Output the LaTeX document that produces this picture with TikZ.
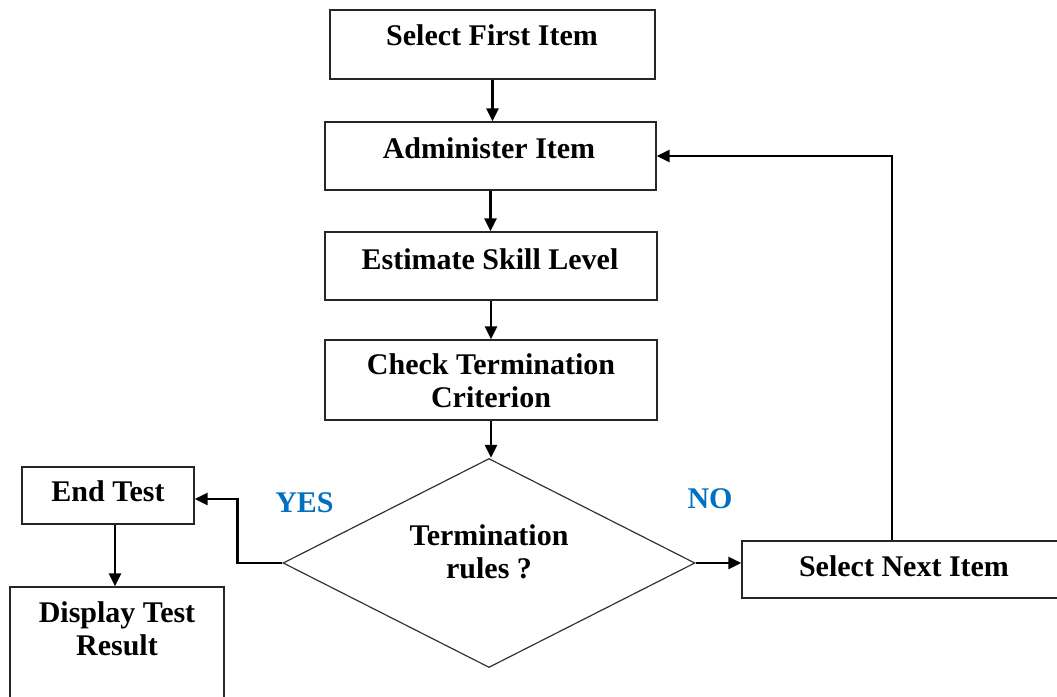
\documentclass[tikz,border=0pt]{standalone}
\usepackage{fontspec}
\setmainfont{Liberation Serif}
\usetikzlibrary{shapes.geometric,arrows.meta}
\definecolor{answer}{RGB}{0,112,192}

\begin{document}
\begin{tikzpicture}[
    x=1pt, y=-1pt,
    box/.style={draw=black!85, line width=1.2pt, inner sep=0pt},
    txt/.style={font=\fontsize{30}{33}\selectfont\bfseries, align=center, inner sep=0pt},
    ans/.style={font=\fontsize{30}{33}\selectfont\bfseries, text=answer, inner sep=0pt},
    link/.style={line width=2.5pt, -{Triangle[length=13pt,width=12pt]}}
    ]
    % 固定画布范围
    \useasboundingbox (0,0) rectangle (1057,696);
    % 主流程方框
    \node[box, minimum width=325pt, minimum height=69pt] (first) at (492.5,44.5) {};
    \node[box, minimum width=331pt, minimum height=68pt] (admin) at (490.5,156) {};
    \node[box, minimum width=332pt, minimum height=68pt] (skill) at (491,266) {};
    \node[box, minimum width=332pt, minimum height=80pt] (check) at (491,380) {};
    % 方框文字
    \node[txt] (firstT) at (492,35) {Select First Item};
    \node[txt] (adminT) at (489,148) {Administer Item};
    \node[txt] (skillT) at (490,259) {Estimate Skill Level};
    \node[txt] (checkT) at (491,381) {Check Termination\\Criterion};
    % 判断菱形
    \node[box, diamond, draw=black!80, minimum width=412pt, minimum height=209pt] (rule) at (489,563) {};
    \node[txt] (ruleT) at (489,552) {Termination\\rules ?};
    % 左侧:结束与结果
    \node[box, minimum width=172pt, minimum height=57pt] (end) at (108,495.5) {};
    \node[txt] (endT) at (108,491) {End Test};
    \node[box, minimum width=214pt, minimum height=123pt] (disp) at (117,648.5) {};
    \node[txt] (dispT) at (117,629) {Display Test\\Result};
    % 右侧:下一题
    \node[box, minimum width=320pt, minimum height=57pt] (next) at (902,569.5) {};
    \node[txt] (nextT) at (904,566) {Select Next Item};
    % 分支标记
    \node[ans] (yes) at (304.5,503) {YES};
    \node[ans] (no) at (710,499) {NO};

    % 竖直箭头
    \draw[link] (first.south) -- (first.south |- admin.north);
    \draw[link] (admin.south) -- (admin.south |- skill.north);
    \draw[link] (skill.south) -- (skill.south |- check.north);
    \draw[link] (check.south) -- (check.south |- rule.north);
    % YES 分支
    \draw[link] (rule.west) -- ++(-45,0) |- ([yshift=-3.5pt]end.east);
    \draw[link] ([xshift=7pt]end.south) -- ([xshift=7pt]end.south |- disp.north);
    % NO 分支,回到 Administer Item
    \draw[link] (rule.east) -- (rule.east -| next.west);
    \coordinate (turn) at ([xshift=-10pt]next.north);
    \draw[link] (turn) |- (admin.east);
\end{tikzpicture}
\end{document}
